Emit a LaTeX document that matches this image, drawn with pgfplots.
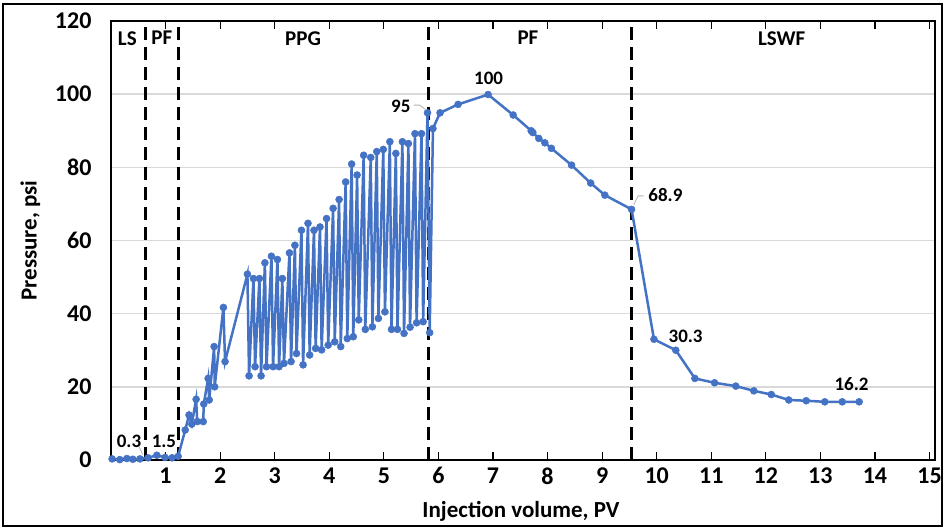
\documentclass[border=0pt]{standalone}
\usepackage{fontspec}
\setmainfont{Carlito}
\usepackage{pgfplots}
\pgfplotsset{compat=1.18}
\definecolor{xlblue}{HTML}{4472C4}
\definecolor{gridgray}{HTML}{D9D9D9}
\begin{document}
\begin{tikzpicture}[x=1pt,y=1pt]
\useasboundingbox (-111,-69) rectangle (834,460);
\draw[line width=2.5pt] (-108,-66) rectangle (831,456);
\begin{axis}[
    at={(0,0)}, anchor=south west,
    scale only axis, width=824pt, height=439pt,
    xmin=0, xmax=15.1, ymin=0, ymax=120,
    xtick={1,...,15}, ytick={0,20,...,120},
    ymajorgrids, grid style={gridgray, line width=1.5pt},
    axis line style={line width=2pt},
    tick align=inside, major tick length=8pt,
    xtick style={black, line width=1.2pt},
    ytick style={draw=none},
    /pgf/number format/assume math mode=true,
    ticklabel style={font=\fontsize{24}{28}\selectfont\bfseries},
    xticklabel style={yshift=-4pt},
    yticklabel style={xshift=-16pt},
    xlabel={Injection volume, PV},
    ylabel={Pressure, psi},
    label style={font=\fontsize{23}{27}\selectfont\bfseries},
    xlabel style={at={(axis description cs:0.4976,-0.118)}, anchor=center},
    ylabel style={at={(axis description cs:-0.098,0.5)}, anchor=center},
    clip=false,
]
% dashed stage boundaries
\foreach \v in {0.64,1.23,5.82,9.54}{
  \edef\tmp{\noexpand\draw[black, line width=3pt, dash pattern=on 13pt off 7pt]
    (axis cs:\v,0) -- (axis cs:\v,120);}
  \tmp
}
\addplot[xlblue, line width=2.5pt, mark=*, mark size=3.5pt,
  mark options={fill=xlblue, draw=xlblue, line width=0.5pt}] coordinates {
  (0.02,0.3) (0.16,0.1) (0.29,0.4) (0.40,0.2) (0.53,0.3)
  (0.68,0.6) (0.84,1.3) (0.99,0.7) (1.12,0.6) (1.23,1.0)
  (1.36,8.2) (1.43,12.3) (1.48,9.8) (1.56,16.6) (1.58,10.5) (1.69,10.5)
  (1.70,15.3) (1.78,22.3) (1.80,16.4) (1.89,31.0) (1.90,20.0)
  (2.06,41.7) (2.09,26.9)
  (2.50,50.8) (2.53,23.0)
  (2.61,49.6) (2.64,25.5)
  (2.72,49.6) (2.75,23.0)
  (2.82,53.9) (2.85,25.5)
  (2.94,55.7) (2.97,25.5)
  (3.05,54.8) (3.08,25.5)
  (3.14,49.6) (3.17,26.4)
  (3.27,56.6) (3.30,26.9)
  (3.37,58.7) (3.40,29.1)
  (3.49,62.8) (3.52,26.0)
  (3.61,64.7) (3.64,28.7)
  (3.72,62.8) (3.75,30.5)
  (3.83,63.7) (3.86,30.1)
  (3.95,66.0) (3.98,31.4)
  (4.07,68.8) (4.10,32.3)
  (4.18,71.2) (4.21,31.0)
  (4.30,76.0) (4.33,33.2)
  (4.41,80.9) (4.44,33.7)
  (4.51,77.9) (4.54,38.3)
  (4.63,83.3) (4.66,35.7)
  (4.76,82.7) (4.79,36.4)
  (4.87,84.3) (4.90,38.7)
  (4.99,84.9) (5.02,40.5)
  (5.11,87.0) (5.14,35.7)
  (5.22,83.8) (5.25,35.7)
  (5.34,87.0) (5.37,34.6)
  (5.45,86.5) (5.48,36.3)
  (5.57,89.2) (5.60,37.5)
  (5.69,89.2) (5.72,37.8)
  (5.80,94.9) (5.84,34.8)
  (5.90,90.6) (6.03,94.9) (6.36,97.2) (6.91,99.9)
  (7.37,94.3) (7.70,90.0) (7.73,89.5) (7.84,87.9) (7.95,86.7) (8.07,85.2)
  (8.44,80.6) (8.79,75.7) (9.05,72.4) (9.54,68.5)
  (9.95,33.0) (10.35,30.0) (10.70,22.3) (11.06,21.1) (11.45,20.2)
  (11.78,18.9) (12.10,17.9) (12.42,16.4) (12.74,16.2) (13.08,15.9)
  (13.40,15.9) (13.71,15.9)
};
% stage labels
\begin{scope}[every node/.style={font=\fontsize{21}{25}\selectfont\bfseries}]
\node at (axis cs:0.30,115.3) {LS};
\node at (axis cs:0.93,115.3) {PF};
\node at (axis cs:3.52,115.3) {PPG};
\node at (axis cs:7.64,115.3) {PF};
\node at (axis cs:12.29,115.3) {LSWF};
\end{scope}
% value labels
\begin{scope}[every node/.style={font=\fontsize{19}{23}\selectfont\bfseries}]
\draw[gray!60, line width=0.8pt] (axis cs:0.52,3.5) -- (axis cs:0.58,1.5);
\node at (axis cs:0.33,5.2) {0.3};
\node at (axis cs:0.97,5.2) {1.5};
\draw[gray!60, line width=0.8pt] (axis cs:5.55,97.0) -- (axis cs:5.66,97.0) -- (axis cs:5.76,95.8);
\node at (axis cs:5.31,96.7) {95};
\node at (axis cs:6.92,104.4) {100};
\draw[gray!60, line width=0.8pt] (axis cs:9.58,69.8) -- (axis cs:9.66,72.2) -- (axis cs:9.76,72.2);
\node at (axis cs:10.16,72.4) {68.9};
\node at (axis cs:10.53,33.9) {30.3};
\node at (axis cs:13.57,20.8) {16.2};
\end{scope}
\end{axis}
\end{tikzpicture}
\end{document}
